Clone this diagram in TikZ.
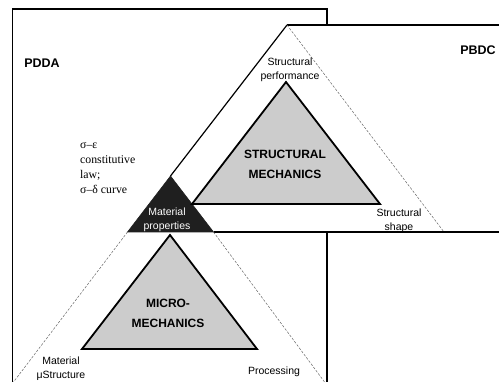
\documentclass[tikz,border=0pt]{standalone}
\usepackage{fontspec}
\setmainfont{Liberation Serif}
\setsansfont{Liberation Sans}
\begin{document}
\begin{tikzpicture}[x=1pt,y=-1pt,
  frame/.style={line width=1.5pt},
  edge/.style={line width=1.2pt},
  tri/.style={line width=1.8pt, line join=miter},
  dotfill/.style={fill=black!20},
  guide/.style={line width=0.5pt, black!60, dash pattern=on 2.5pt off 1.5pt},
  lbl/.style={font=\sffamily\fontsize{10.5}{14}\selectfont, align=center, inner sep=0pt},
  title/.style={font=\sffamily\bfseries\fontsize{12.5}{14}\selectfont, inner sep=0pt},
  core/.style={font=\sffamily\bfseries\fontsize{12}{20}\selectfont, align=center, inner sep=0pt},
  law/.style={font=\fontsize{11.8}{15}\selectfont, align=left, inner sep=0pt}
]
\useasboundingbox (0,0) rectangle (499,382);
\clip (0,0) rectangle (499,382);

% key points of the two large triangles
\coordinate (T)  at (287,25);     % apex of the upper triangle
\coordinate (P)  at (170.5,176);  % apex of the lower triangle
\coordinate (B)  at (127.5,232);
\coordinate (C)  at (213.5,232);
\coordinate (R)  at (444,232);
\coordinate (LL) at (12,384);
\coordinate (LR) at (326,384);

% PDDA frame
\draw[frame] (12.5,400) -- (12.5,9) -- (327,9) -- (327,25);
\draw[edge] (327,232) -- (327,400);

% PBDC frame
\draw[edge] (T) -- (510,25);
\draw[edge] (C) -- (510,232);

% upper triangle: solid left side, dashed right side
\draw[edge] (T) -- (P);
\draw[guide] (T) -- (R);

% lower triangle: dashed sides
\draw[guide] (B) -- (LL);
\draw[guide] (C) -- (LR);

% shared corner: material properties
\filldraw[black!88, line width=0.6pt] (P) -- (B) -- (C) -- cycle;

% structural mechanics triangle
\coordinate (S1) at (286,82);
\coordinate (S2) at (192,204);
\coordinate (S3) at (380,204);
\filldraw[tri, dotfill] (S1) -- (S2) -- (S3) -- cycle;

% micro-mechanics triangle
\coordinate (M1) at (170,235);
\coordinate (M2) at (82,349);
\coordinate (M3) at (257,349);
\filldraw[tri, dotfill] (M1) -- (M2) -- (M3) -- cycle;

% labels
\node[title] (pdda) at (42,63) {PDDA};
\node[title] (pbdc) at (478,50) {PBDC};
\node[lbl] (perf) at (290,69.5) {Structural\\performance};
\node[core] (smech) at (285,164) {STRUCTURAL\\MECHANICS};
\node[lbl, text=white] (mprop) at (167,219.5) {Material\\properties};
\node[lbl] (shape) at (399,220.5) {Structural\\shape};
\node[core] (mmech) at (168,313.5) {MICRO-\\MECHANICS};
\node[lbl] (mstruct) at (61,368.5) {Material\\μStructure};
\node[lbl] (proc) at (274,372) {Processing};
\node[law, anchor=west] (claw) at (80,168.5) {σ–ε\\constitutive\\law;\\σ–δ curve};
\end{tikzpicture}
\end{document}
